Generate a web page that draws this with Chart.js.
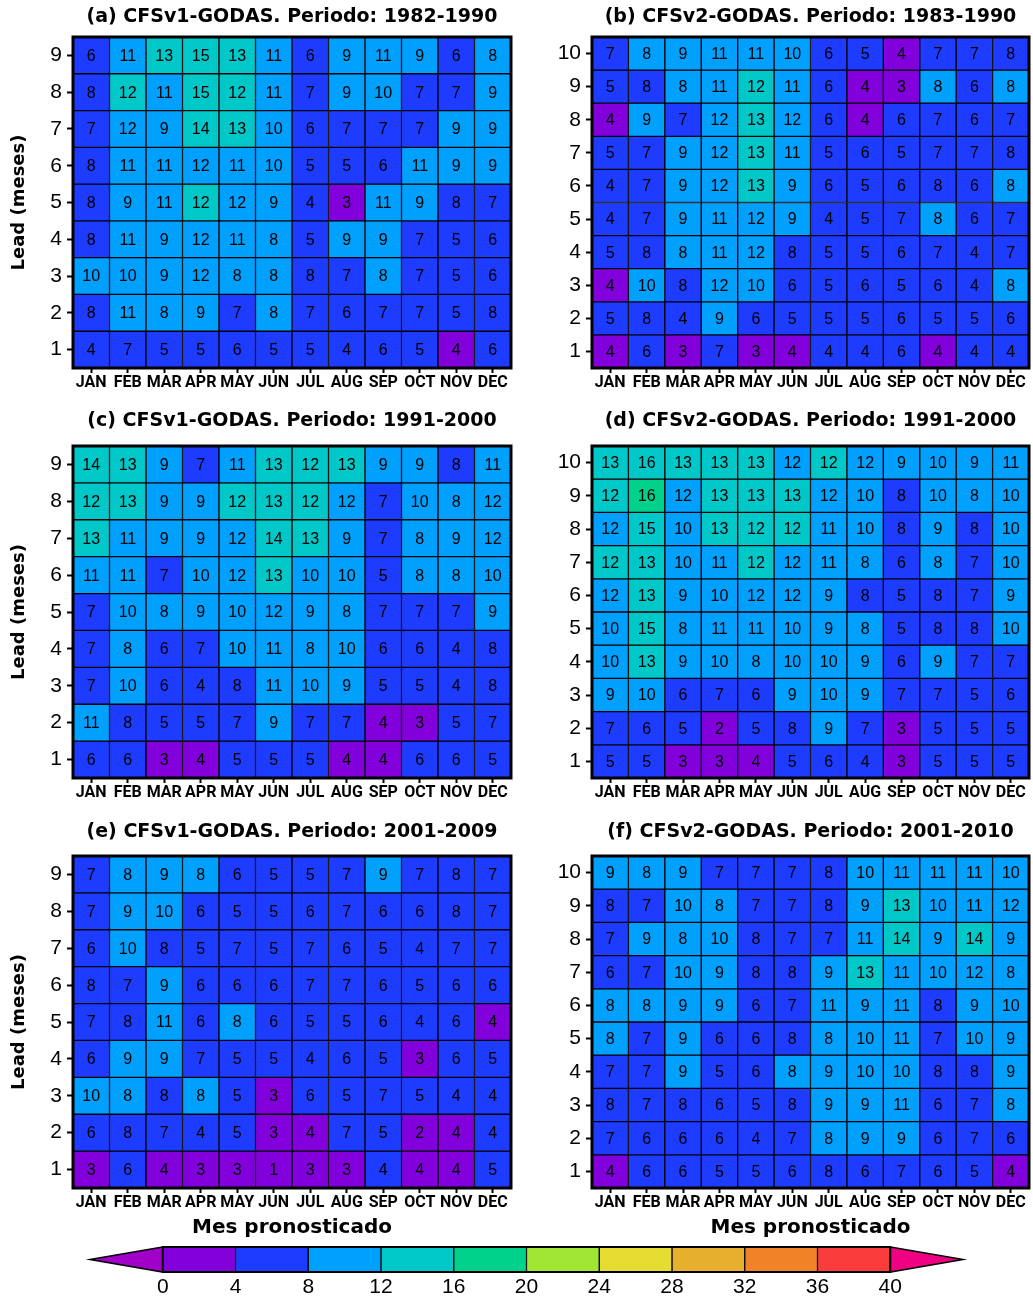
<!DOCTYPE html>
<html>
<head>
<meta charset="utf-8">
<script src="https://cdn.jsdelivr.net/npm/chart.js@4.4.1/dist/chart.umd.min.js"></script>
<style>
body{margin:0;background:#fff;}
#wrap{position:relative;width:1033px;height:1299px;background:#fff;}
canvas{position:absolute;}
</style>
</head>
<body>
<div id="wrap">
<canvas id="pa" width="516" height="400" style="left:0;top:0"></canvas>
<canvas id="pb" width="517" height="400" style="left:516px;top:0"></canvas>
<canvas id="pc" width="516" height="410" style="left:0;top:400px"></canvas>
<canvas id="pd" width="517" height="410" style="left:516px;top:400px"></canvas>
<canvas id="pe" width="516" height="430" style="left:0;top:810px"></canvas>
<canvas id="pf" width="517" height="430" style="left:516px;top:810px"></canvas>
<canvas id="cbar" width="1033" height="59" style="left:0;top:1240px"></canvas>
</div>
<script>
// Meses pronosticados vs lead, CFSv1/CFSv2 - GODAS

const months = ["JAN","FEB","MAR","APR","MAY","JUN","JUL","AUG","SEP","OCT","NOV","DEC"];
const levels = [0,4,8,12,16,20,24,28,32,36,40];

// filas de arriba (lead mayor) a abajo (lead 1)
const valuesA = [
  [6,11,13,15,13,11,6,9,11,9,6,8],
  [7.8,12,11,15,12,11,7,9,10,7,7,9],
  [7,11.8,9,14,13,10,6,7,7,7,9,9],
  [7.8,11,11,11.8,11,10,5,5,6,11,9,9],
  [7.8,9,11,12,11.8,9,4,3,11,9,7.8,7],
  [7.8,11,9,11.8,11,8,5,9,9,7,5,6],
  [10,10,9,11.8,8,8,7.8,7,8,7,5,6],
  [7.8,11,8,9,7,8,7,6,7,7,5,7.8],
  [4,7,5,5,6,5,5,4,6,5,3.8,6]
];

const valuesB = [
  [7,8,9,11,11,10,6,5,3.8,7,7,7.8],
  [5,7.8,8,11,12,11,6,3.8,3,8,6,8],
  [3.8,9,7,11.8,13,11.8,6,3.8,6,7,6,7],
  [5,7,9,11.8,13,11,5,6,5,7,7,7.8],
  [4,7,9,11.8,13,9,6,5,6,7.8,6,8],
  [4,7,9,11,11.8,9,4,5,7,8,6,7],
  [5,7.8,8,11,11.8,7.8,5,5,6,7,4,7],
  [3.8,10,7.8,11.8,10,6,5,6,5,6,4,8],
  [5,7.8,4,9,6,5,5,5,6,5,5,6],
  [3.8,6,3,7,3,3.8,4,4,6,3.8,4,4]
];

const valuesC = [
  [14,13,9,7,11,13,12,13,9,9,7.8,11],
  [12,13,9,9,12,13,12,11.8,7,10,8,11.8],
  [13,11,9,9,11.8,14,13,9,7,8,9,11.8],
  [11,11,7,10,11.8,13,10,10,5,8,8,10],
  [7,10,8,9,10,11.8,9,8,7,7,7,9],
  [7,8,6,7,10,11,8,10,6,6,4,7.8],
  [7,10,6,4,7.8,11,10,9,5,5,4,7.8],
  [11,7.8,5,5,7,9,7,7,3.8,3,5,7],
  [6,6,3,3.8,5,5,5,3.8,3.8,6,6,5]
];

const valuesD = [
  [13,15.8,13,13,13,11.8,12,11.8,9,10,9,11],
  [12,16,11.8,13,13,13,11.8,10,7.8,10,8,10],
  [11.8,15,10,13,12,12,11,10,7.8,9,7.8,10],
  [12,13,10,11,12,11.8,11,8,6,8,7,10],
  [11.8,13,9,10,11.8,11.8,9,7.8,5,7.8,7,9],
  [10,15,8,11,11,10,9,8,5,7.8,7.8,10],
  [10,13,9,10,8,10,10,9,6,9,7,7],
  [9,10,6,7,6,9,10,9,7,7,5,6],
  [7,6,5,2,5,7.8,9,7,3,5,5,5],
  [5,5,3,3,3.8,5,6,4,3,5,5,5]
];

const valuesE = [
  [7,8,9,8,6,5,5,7,9,7,7.8,7],
  [7,9,10,6,5,5,6,7,6,6,7.8,7],
  [6,10,7.8,5,7,5,7,6,5,4,7,7],
  [7.8,7,9,6,6,6,7,7,6,5,6,6],
  [7,7.8,11,6,8,6,5,5,6,4,6,3.8],
  [6,9,9,7,5,5,4,6,5,3,6,5],
  [10,8,7.8,8,5,3,6,5,7,5,4,4],
  [6,7.8,7,4,5,3,3.8,7,5,2,3.8,4],
  [3,6,3.8,3,3,1,3,3,4,3.8,3.8,5]
];

const valuesF = [
  [9,8,9,7,7,7,7.8,10,11,11,11,10],
  [7.8,7,10,8,7,7,7.8,9,13,10,11,11.8],
  [7,9,8,10,7.8,7,7,11,14,9,14,9],
  [6,7,10,9,7.8,7.8,9,13,11,10,11.8,8],
  [8,8,9,9,6,7,11,9,11,7.8,9,10],
  [8,7,9,6,6,7.8,8,10,11,7,10,9],
  [7,7,9,5,6,8,9,10,10,7.8,7.8,9],
  [7.8,7,7.8,6,5,7.8,9,9,11,6,7,8],
  [7,6,6,6,4,7,8,9,9,6,7,6],
  [3.8,6,6,5,5,6,7.8,6,7,6,5,3.8]
];

const titles = [
  "(a) CFSv1-GODAS. Periodo: 1982-1990",
  "(b) CFSv2-GODAS. Periodo: 1983-1990",
  "(c) CFSv1-GODAS. Periodo: 1991-2000",
  "(d) CFSv2-GODAS. Periodo: 1991-2000",
  "(e) CFSv1-GODAS. Periodo: 2001-2009",
  "(f) CFSv2-GODAS. Periodo: 2001-2010"
];


// colores tipo GrADS
const binColors = ["rgb(130,0,220)","rgb(30,60,255)","rgb(0,160,255)","rgb(0,200,200)","rgb(0,210,140)",
  "rgb(160,230,50)","rgb(230,220,50)","rgb(230,175,45)","rgb(240,130,40)","rgb(250,60,60)"];
const underColor = "rgb(160,0,200)";
const overColor = "rgb(240,0,130)";

function colorFor(v){
  if(v < levels[0]) return underColor;
  if(v >= levels[levels.length-1]) return overColor;
  for(let i=levels.length-2;i>=0;i--){
    if(v >= levels[i]) return binColors[i];
  }
}

const titleFont = {family:'"DejaVu Sans", sans-serif', size:19, weight:'bold', lineHeight:1.2};
const leadFont = {family:'"DejaVu Sans", sans-serif', size:18, weight:'bold', lineHeight:1.2};
const mesFont = {family:'"DejaVu Sans", sans-serif', size:20, weight:'bold', lineHeight:1.2};
const numFont = '16px "Liberation Sans", Arial, sans-serif';


// numeros dentro de cada celda
const cellText = {
  id:"cellText",
  afterDatasetsDraw(chart){
    let ctx = chart.ctx;
    ctx.save();
    ctx.font = numFont;
    ctx.fillStyle = "#000";
    ctx.textAlign = "center";
    ctx.textBaseline = "middle";
    chart.data.datasets.forEach((ds,di)=>{
      chart.getDatasetMeta(di).data.forEach((bar,i)=>{
        let p = bar.getProps(["x","y","base"], true);
        ctx.fillText(String(Math.round(ds.values[i])), p.x, (p.y+p.base)/2 + 1);
      });
    });
    ctx.restore();
  }
};

// marco grueso
const frame = {
  id:"frame",
  afterDraw(chart){
    let a = chart.chartArea;
    let ctx = chart.ctx;
    ctx.save();
    ctx.strokeStyle = "#000";
    ctx.lineWidth = 3;
    ctx.strokeRect(a.left, a.top, a.right-a.left, a.bottom-a.top);
    ctx.restore();
  }
};


function makePanel(id, values, title, lay){

  let n = values.length;
  let leads = values.map((row,r)=>n-r);

  let datasets = values.map((row,r)=>({
    data: row.map(()=>[leads[r]-0.5, leads[r]+0.5]),
    values: row,
    backgroundColor: row.map(colorFor),
    borderColor:"#000",
    borderWidth:1,
    borderSkipped:false,
    barPercentage:1,
    categoryPercentage:1,
    grouped:false
  }));

  let lh = titleFont.size*titleFont.lineHeight;
  let pt = lay.titleCenter - lh/2;
  let pb = lay.top - pt - lh;

  new Chart(document.getElementById(id), {
    type:"bar",
    data:{labels:months, datasets:datasets},
    options:{
      responsive:false,
      animation:false,
      layout:{padding:{left:0, right:lay.right, top:0, bottom:0}},
      plugins:{
        legend:{display:false},
        tooltip:{enabled:false},
        title:{
          display:true,
          text:title,
          color:"#000",
          font:titleFont,
          fullSize:false,
          padding:{top:pt, bottom:pb}
        }
      },
      scales:{
        x:{
          type:"category",
          offset:true,
          grid:{drawOnChartArea:false, offset:false, drawTicks:true, tickLength:5, tickWidth:2, tickColor:"#000"},
          border:{display:false},
          ticks:{
            color:"#000",
            padding:1.5,
            autoSkip:false,
            maxRotation:0,
            font:{family:'Roboto, "Liberation Sans", sans-serif', size:16, weight:'bold', lineHeight:1}
          },
          title:{
            display:lay.monthTitle,
            text:"Mes pronosticado",
            color:"#000",
            font:mesFont,
            padding:{top:0, bottom:0}
          },
          afterFit:(s)=>{ s.height = lay.xh; }
        },
        y:{
          type:"linear",
          min:0.5,
          max:n+0.5,
          afterBuildTicks:(s)=>{ s.ticks = leads.map(v=>({value:v})); },
          grid:{drawOnChartArea:false, drawTicks:true, tickLength:6, tickWidth:2, tickColor:"#000"},
          border:{display:false},
          ticks:{
            color:"#000",
            padding:5,
            autoSkip:false,
            font:{family:'"Liberation Sans", Arial, sans-serif', size:21}
          },
          title:{
            display:lay.leadTitle,
            text:"Lead (meses)",
            color:"#000",
            font:leadFont,
            padding:{top:9, bottom:0}
          },
          afterFit:(s)=>{ s.width = lay.yw; }
        }
      }
    },
    plugins:[cellText, frame]
  });

}


let left = {yw:73, right:5, leadTitle:true};
let right = {yw:76, right:4, leadTitle:false};

makePanel("pa", valuesA, titles[0], {...left, titleCenter:17, top:37, xh:32, monthTitle:false});
makePanel("pb", valuesB, titles[1], {...right, titleCenter:17, top:37, xh:32, monthTitle:false});
makePanel("pc", valuesC, titles[2], {...left, titleCenter:21, top:46, xh:32, monthTitle:false});
makePanel("pd", valuesD, titles[3], {...right, titleCenter:21, top:46, xh:32, monthTitle:false});
makePanel("pe", valuesE, titles[4], {...left, titleCenter:22, top:46, xh:52, monthTitle:true});
makePanel("pf", valuesF, titles[5], {...right, titleCenter:22, top:46, xh:52, monthTitle:true});


// barra de colores
const arrows = {
  id:"arrows",
  afterDatasetsDraw(chart){
    let x = chart.scales.x;
    let a = chart.chartArea;
    let ctx = chart.ctx;
    let lo = levels[0], hi = levels[levels.length-1], step = levels[1]-levels[0];
    let mid = (a.top+a.bottom)/2;
    ctx.save();
    ctx.strokeStyle = "#000";
    ctx.lineWidth = 1.5;
    ctx.fillStyle = underColor;
    ctx.beginPath();
    ctx.moveTo(x.getPixelForValue(lo), a.top);
    ctx.lineTo(x.getPixelForValue(lo-step), mid);
    ctx.lineTo(x.getPixelForValue(lo), a.bottom);
    ctx.closePath();
    ctx.fill(); ctx.stroke();
    ctx.fillStyle = overColor;
    ctx.beginPath();
    ctx.moveTo(x.getPixelForValue(hi), a.top);
    ctx.lineTo(x.getPixelForValue(hi+step), mid);
    ctx.lineTo(x.getPixelForValue(hi), a.bottom);
    ctx.closePath();
    ctx.fill(); ctx.stroke();
    ctx.lineWidth = 2;
    ctx.strokeRect(x.getPixelForValue(lo), a.top, x.getPixelForValue(hi)-x.getPixelForValue(lo), a.bottom-a.top);
    ctx.restore();
  }
};

let cbSets = binColors.map((c,i)=>({
  data:[[levels[i], levels[i+1]]],
  backgroundColor:c,
  borderColor:"#000",
  borderWidth:1,
  borderSkipped:false,
  barPercentage:1,
  categoryPercentage:1,
  grouped:false
}));

new Chart(document.getElementById("cbar"), {
  type:"bar",
  data:{labels:[""], datasets:cbSets},
  options:{
    indexAxis:"y",
    responsive:false,
    animation:false,
    layout:{padding:{left:90, right:70, top:7, bottom:0}},
    plugins:{legend:{display:false}, tooltip:{enabled:false}},
    scales:{
      y:{display:false},
      x:{
        type:"linear",
        min:levels[0]-4,
        max:levels[levels.length-1]+4,
        afterBuildTicks:(s)=>{ s.ticks = levels.map(v=>({value:v})); },
        grid:{display:false, drawTicks:false},
        border:{display:false},
        ticks:{color:"#000", padding:4.5, autoSkip:false, maxRotation:0,
          font:{family:'"Liberation Sans", Arial, sans-serif', size:21, lineHeight:1}},
        afterFit:(s)=>{ s.height = 27; }
      }
    }
  },
  plugins:[arrows]
});
</script>
</body>
</html>
